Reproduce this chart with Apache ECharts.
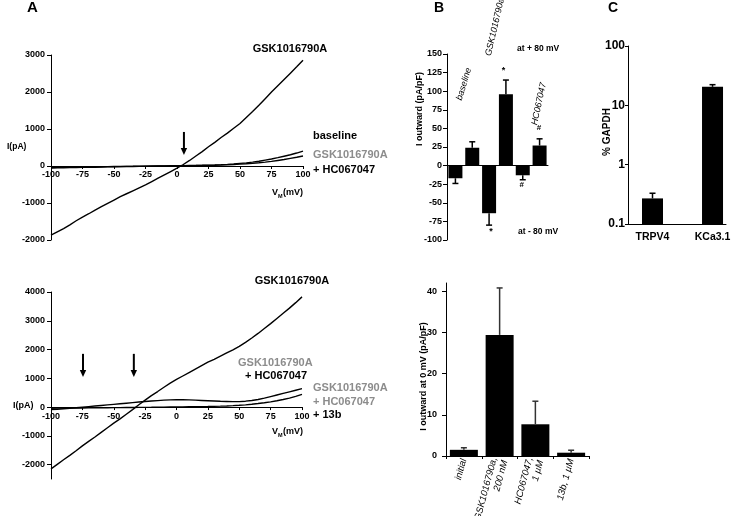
<!DOCTYPE html>
<html><head><meta charset="utf-8">
<script src="https://cdn.jsdelivr.net/npm/echarts@6/dist/echarts.min.js"></script>
<style>html,body{margin:0;padding:0;background:#fff}#c{width:738px;height:516px}</style>
</head><body><div id="c"></div>
<script>
// ---------- DATA ----------
const vm = [-100,-95,-90,-85,-80,-75,-70,-65,-60,-55,-50,-45,-40,-35,-30,-25,-20,-15,-10,-5,0,5,10,15,20,25,30,35,40,45,50,55,60,65,70,75,80,85,90,95,100];
// Panel A (top) I-V traces, pA
const topGsk      = [-1870,-1780,-1690,-1590,-1480,-1380,-1290,-1190,-1100,-1010,-920,-830,-750,-670,-590,-510,-420,-330,-240,-150,-60,40,150,270,390,520,640,770,890,1020,1150,1310,1470,1640,1820,2000,2170,2340,2510,2680,2860];
const topBaseline = [-40,-38,-35,-33,-30,-28,-25,-23,-20,-18,-15,-13,-10,-8,-5,-3,0,2,4,6,8,10,13,16,20,25,30,37,45,55,70,85,105,130,160,190,225,265,305,350,400];
const topGskHc    = [-55,-52,-48,-45,-42,-38,-35,-32,-28,-25,-22,-18,-15,-12,-9,-6,-3,0,2,4,6,8,10,12,15,18,22,27,33,40,50,60,72,88,105,125,150,175,205,235,270];
// Panel A (bottom) I-V traces, pA
const botGsk      = [-2150,-1990,-1830,-1680,-1520,-1350,-1190,-1040,-880,-720,-560,-410,-250,-90,80,240,400,540,690,830,960,1080,1200,1320,1440,1560,1660,1770,1880,1990,2110,2250,2400,2560,2730,2900,3080,3260,3440,3630,3830];
const botGskHc    = [-90,-75,-60,-45,-25,-5,15,35,55,75,95,115,135,155,175,195,210,225,240,250,255,255,250,240,230,220,210,200,195,190,190,205,230,265,310,365,420,475,530,585,640];
const botGskHc13b = [-40,-38,-36,-34,-32,-30,-28,-26,-24,-22,-20,-18,-16,-14,-12,-10,-8,-5,-2,1,4,7,10,13,17,21,26,32,40,50,62,78,98,122,150,182,220,262,310,370,440];
const aTopRange = [-2000, 3000];
const aBotRange = [-2500, 4000];
const aBotTicks = [-2000,-1000,0,1000,2000,3000,4000];
// arrows: [x (mV), start I (pA), tip I (pA)]
const arrowsTop = [[5.5, 920, 300]];
const arrowsBot = [[-74.5, 1850, 1045], [-34, 1850, 1045]];
// Panel B (top): I outward at -80 / +80 mV, pA/pF
const bTopCats = ['baseline -80','baseline +80','GSK -80','GSK +80','HC -80','HC +80'];
const bTopVals = [-17, 24, -64, 96, -13, 27];
const bTopErr  = [7, 8, 16, 19, 6, 9];
// Panel B (bottom): I outward at 0 mV, pA/pF
const bBotCats = ['initial', 'GSK1016790a,\n200 nM', 'HC067047,\n1 \u00b5M', '13b, 1 \u00b5M'];
const bBotVals = [1.5, 29.4, 7.7, 0.8];
const bBotErr  = [0.5, 11.4, 5.6, 0.6];
const bBotTicks = [0, 10, 20, 30, 40];
// Panel C: % GAPDH
const cCats = ['TRPV4', 'KCa3.1'];
const cVals = [0.27, 20.5];
const cErr  = [0.06, 1.8];
const cPos  = [1, 3.45];

// ---------- CHART ----------
const FONT = "'Liberation Sans', Arial, sans-serif";
const chart = echarts.init(document.getElementById('c'), null, {renderer: 'canvas'});
const BLK = '#000', GRAY = '#8c8c8c';
const lbl = (size, margin, extra) => Object.assign({color: BLK, fontFamily: FONT, fontWeight: 'bold', fontSize: size, margin: margin, formatter: v => String(v)}, extra || {});
const line = (extra) => Object.assign({show: true, onZero: false, lineStyle: {color: BLK, width: 1}}, extra || {});
const tick = (len, extra) => Object.assign({show: true, length: len, lineStyle: {color: BLK, width: 1}}, extra || {});
const noSplit = {show: false};
const pts = (arr) => vm.map((x, i) => [x, arr[i]]);

function errItem(capHalf, color) {
  return function (params, api) {
    const x = api.value(0), v = api.value(1), e = api.value(2);
    const end = v >= 0 ? v + e : v - e;
    const p0 = api.coord([x, v]), p1 = api.coord([x, end]);
    return {type: 'group', children: [
      {type: 'line', shape: {x1: p0[0], y1: p0[1], x2: p1[0], y2: p1[1]}, style: {stroke: color, lineWidth: 1.5}},
      {type: 'line', shape: {x1: p1[0] - capHalf, y1: p1[1], x2: p1[0] + capHalf, y2: p1[1]}, style: {stroke: color, lineWidth: 1.5}}
    ]};
  };
}
function logBarItem(params, api) {
  const x = api.value(0), v = api.value(1), e = api.value(2);
  const base = api.coord([x, 0.1]), top = api.coord([x, v]), et = api.coord([x, v + e]);
  const w = 21;
  return {type: 'group', children: [
    {type: 'rect', shape: {x: top[0] - w / 2, y: top[1], width: w, height: base[1] - top[1]}, style: {fill: BLK}},
    {type: 'line', shape: {x1: top[0], y1: top[1], x2: et[0], y2: et[1]}, style: {stroke: BLK, lineWidth: 1.5}},
    {type: 'line', shape: {x1: et[0] - 3, y1: et[1], x2: et[0] + 3, y2: et[1]}, style: {stroke: BLK, lineWidth: 1.5}}
  ]};
}
function arrowItem(params, api) {
  const x = api.value(0);
  const p0 = api.coord([x, api.value(1)]), p1 = api.coord([x, api.value(2)]);
  const head = 7, hw = 3.2;
  return {type: 'group', children: [
    {type: 'line', shape: {x1: p0[0], y1: p0[1], x2: p1[0], y2: p1[1] - head + 1}, style: {stroke: BLK, lineWidth: 2}},
    {type: 'polygon', shape: {points: [[p1[0] - hw, p1[1] - head], [p1[0] + hw, p1[1] - head], [p1[0], p1[1]]]}, style: {fill: BLK}}
  ]};
}
const traceStyle = {color: BLK, width: 1.4};

function T(text, x, y, o) {
  o = o || {};
  return {type: 'text', x: x, y: y, rotation: (o.rot || 0) * Math.PI / 180, silent: true, z: 100,
    style: {text: text, fill: o.fill || BLK, fontFamily: FONT, fontSize: o.size || 11,
      fontWeight: o.weight || 'bold', fontStyle: o.style || 'normal',
      align: o.align || 'left', verticalAlign: 'middle'}};
}

const gridBase = {containLabel: false, outerBoundsMode: 'none', show: false};
const aTopH = 185, aBotH = 187;
// helper grids whose bottom edge lies on the I = 0 line, to carry the V axis labels
const aTopZeroH = aTopH * aTopRange[1] / (aTopRange[1] - aTopRange[0]);
const aBotZeroH = aBotH * aBotRange[1] / (aBotRange[1] - aBotRange[0]);
const hiddenY = (g) => ({gridIndex: g, type: 'value', show: false, min: 0, max: 1});
const vAxis = (g, margin) => ({gridIndex: g, type: 'value', min: -100, max: 100, interval: 25, axisLine: line(), axisTick: tick(3), axisLabel: lbl(9, margin), splitLine: noSplit});

const option = {
  animation: false,
  backgroundColor: '#fff',
  grid: [
    Object.assign({left: 51, top: 55, width: 252, height: aTopH}, gridBase),
    Object.assign({left: 51, top: 292, width: 251, height: aBotH}, gridBase),
    Object.assign({left: 447, top: 54, width: 101, height: 186}, gridBase),
    Object.assign({left: 446, top: 283, width: 143, height: 173}, gridBase),
    Object.assign({left: 628, top: 46, width: 98, height: 178}, gridBase),
    Object.assign({left: 51, top: 55, width: 252, height: aTopZeroH}, gridBase),
    Object.assign({left: 51, top: 292, width: 251, height: aBotZeroH}, gridBase)
  ],
  xAxis: [
    {gridIndex: 0, type: 'value', min: -100, max: 100, show: false},
    {gridIndex: 1, type: 'value', min: -100, max: 100, show: false},
    {gridIndex: 2, type: 'category', data: bTopCats, axisLine: line({onZero: true}), axisTick: {show: false}, axisLabel: {show: false}, splitLine: noSplit},
    {gridIndex: 3, type: 'category', data: bBotCats, axisLine: line(), axisTick: tick(3), axisLabel: {color: BLK, fontFamily: FONT, fontSize: 9.5, fontStyle: 'italic', margin: 3, rotate: 75, interval: 0, lineHeight: 11}, splitLine: noSplit},
    {gridIndex: 4, type: 'value', min: 0, max: 4, axisLine: line(), axisTick: {show: false},
      axisLabel: lbl(10.5, 8, {customValues: cPos, formatter: v => { const i = cPos.indexOf(v); return i >= 0 ? cCats[i] : ''; }}), splitLine: noSplit},
    vAxis(5, 4),
    vAxis(6, 5)
  ],
  yAxis: [
    {gridIndex: 0, type: 'value', min: aTopRange[0], max: aTopRange[1], interval: 1000, axisLine: line(), axisTick: tick(4), axisLabel: lbl(9, 6), splitLine: noSplit},
    {gridIndex: 1, type: 'value', min: aBotRange[0], max: aBotRange[1], interval: 500, axisLine: line(),
      axisTick: tick(4, {customValues: aBotTicks}),
      axisLabel: lbl(9, 6, {customValues: aBotTicks, formatter: v => (v % 1000 === 0 ? String(v) : '')}), splitLine: noSplit},
    {gridIndex: 2, type: 'value', min: -100, max: 150, interval: 25, axisLine: line(), axisTick: tick(4), axisLabel: lbl(9, 5), splitLine: noSplit},
    {gridIndex: 3, type: 'value', min: 0, max: 42, interval: 10, axisLine: line(),
      axisTick: tick(4, {customValues: bBotTicks}),
      axisLabel: lbl(9, 9, {customValues: bBotTicks}), splitLine: noSplit},
    {gridIndex: 4, type: 'log', logBase: 10, min: 0.1, max: 100, axisLine: line(), axisTick: tick(3), axisLabel: lbl(12, 3), splitLine: noSplit, minorTick: {show: false}},
    hiddenY(5),
    hiddenY(6)
  ],
  series: [
    {type: 'line', xAxisIndex: 0, yAxisIndex: 0, data: pts(topGsk), showSymbol: false, lineStyle: traceStyle, silent: true},
    {type: 'line', xAxisIndex: 0, yAxisIndex: 0, data: pts(topBaseline), showSymbol: false, lineStyle: traceStyle, silent: true},
    {type: 'line', xAxisIndex: 0, yAxisIndex: 0, data: pts(topGskHc), showSymbol: false, lineStyle: traceStyle, silent: true},
    {type: 'custom', xAxisIndex: 0, yAxisIndex: 0, data: arrowsTop, renderItem: arrowItem, silent: true, z: 5},
    {type: 'line', xAxisIndex: 1, yAxisIndex: 1, data: pts(botGsk), showSymbol: false, lineStyle: traceStyle, silent: true},
    {type: 'line', xAxisIndex: 1, yAxisIndex: 1, data: pts(botGskHc), showSymbol: false, lineStyle: traceStyle, silent: true},
    {type: 'line', xAxisIndex: 1, yAxisIndex: 1, data: pts(botGskHc13b), showSymbol: false, lineStyle: traceStyle, silent: true},
    {type: 'custom', xAxisIndex: 1, yAxisIndex: 1, data: arrowsBot, renderItem: arrowItem, silent: true, z: 5},
    {type: 'bar', xAxisIndex: 2, yAxisIndex: 2, data: bTopVals, barWidth: 14, itemStyle: {color: BLK}, silent: true},
    {type: 'custom', xAxisIndex: 2, yAxisIndex: 2, data: bTopVals.map((v, i) => [i, v, bTopErr[i]]), renderItem: errItem(3, BLK), silent: true, z: 3},
    {type: 'bar', xAxisIndex: 3, yAxisIndex: 3, data: bBotVals, barWidth: 28, itemStyle: {color: BLK}, silent: true},
    {type: 'custom', xAxisIndex: 3, yAxisIndex: 3, data: bBotVals.map((v, i) => [i, v, bBotErr[i]]), renderItem: errItem(3, '#333'), silent: true, z: 3},
    {type: 'custom', xAxisIndex: 4, yAxisIndex: 4, data: cPos.map((p, i) => [p, cVals[i], cErr[i]]), renderItem: logBarItem, silent: true}
  ],
  graphic: [
    T('A', 27, 8, {size: 15}), T('B', 434, 8, {size: 14}), T('C', 608, 8, {size: 14}),
    // Panel A top
    T('GSK1016790A', 290, 49, {align: 'center'}),
    T('baseline', 313, 136),
    T('GSK1016790A', 313, 155, {fill: GRAY}),
    T('+ HC067047', 313, 170),
    T('I(pA)', 7, 147, {size: 8.5}),
    T('V', 272, 193, {size: 9}), T('M', 278, 196, {size: 5.5}), T('(mV)', 283, 193, {size: 9}),
    // Panel A bottom
    T('GSK1016790A', 292, 281, {align: 'center'}),
    T('GSK1016790A', 238, 363, {fill: GRAY}),
    T('+ HC067047', 245, 376),
    T('GSK1016790A', 313, 388, {fill: GRAY}),
    T('+ HC067047', 313, 402, {fill: GRAY}),
    T('+ 13b', 313, 415),
    T('I(pA)', 13, 406, {size: 9}),
    T('V', 272, 432, {size: 9}), T('M', 278, 435, {size: 5.5}), T('(mV)', 283, 432, {size: 9}),
    // Panel B top
    T('I outward (pA/pF)', 420, 109, {align: 'center', rot: 90, size: 9}),
    T('at + 80 mV', 517, 49, {size: 8.5}),
    T('at - 80 mV', 518, 232, {size: 8.5}),
    T('baseline', 464, 84, {align: 'center', rot: 73, size: 9, weight: 'normal', style: 'italic'}),
    T('GSK1016790a', 495, 27, {align: 'center', rot: 77, size: 9, weight: 'normal', style: 'italic'}),
    T('HC067047', 539, 104, {align: 'center', rot: 78, size: 9, weight: 'normal', style: 'italic'}),
    T('*', 503.5, 71, {align: 'center', size: 9}),
    T('*', 491, 232, {align: 'center', size: 9}),
    T('#', 521.7, 185, {align: 'center', size: 8}),
    T('#', 539, 128, {align: 'center', size: 8}),
    // Panel B bottom
    T('I outward at 0 mV (pA/pF)', 423.5, 376.5, {align: 'center', rot: 90, size: 9}),
    // Panel C
    T('% GAPDH', 607.5, 132, {align: 'center', rot: 90, size: 10})
  ]
};
chart.setOption(option);
</script>
</body></html>
